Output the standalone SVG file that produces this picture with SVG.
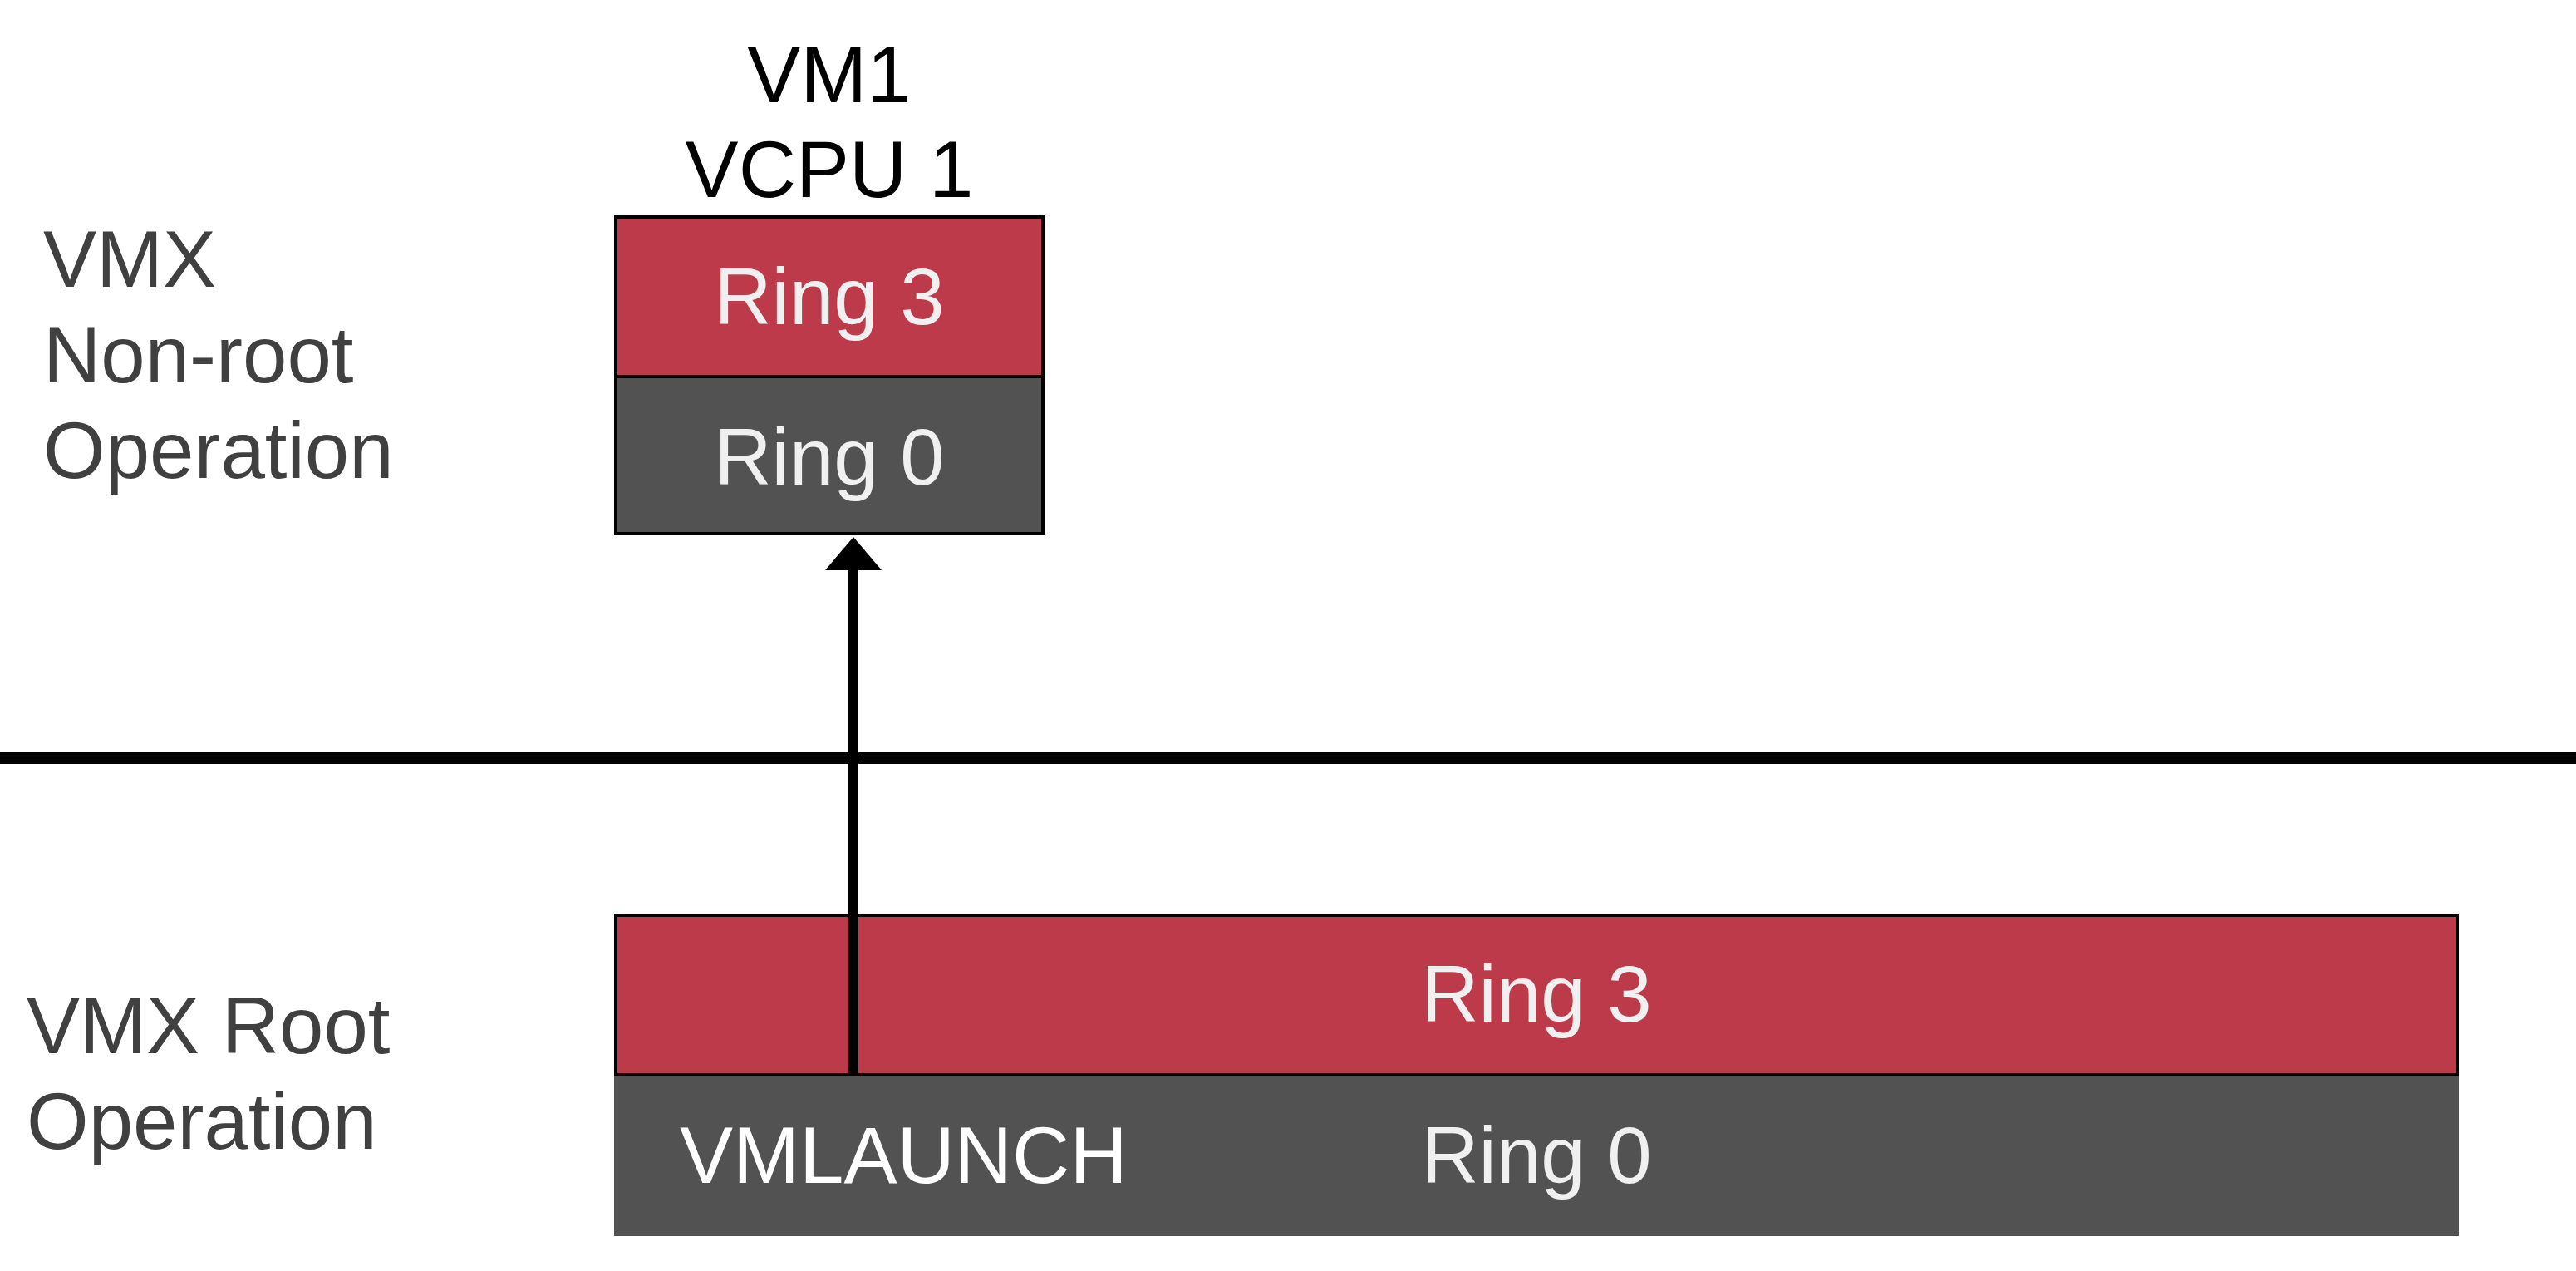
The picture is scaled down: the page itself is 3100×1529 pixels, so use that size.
<svg xmlns="http://www.w3.org/2000/svg" width="3100" height="1529" viewBox="0 0 3100 1529">
<style>
.t{font-family:"Liberation Sans",Arial,sans-serif;font-size:96px}
.lbl{fill:#404040}
.ring{fill:#f0f0f0;text-anchor:middle}
.red{fill:#bd3a4b;stroke:#000;stroke-width:4}
.gray{fill:#525252}
</style>
<defs>
<marker id="ah" markerUnits="userSpaceOnUse" markerWidth="40" markerHeight="68" viewBox="0 0 40 68" refX="0" refY="34" orient="auto">
<path d="M0,0 L40,34 L0,68 z" fill="#000"/>
</marker>
</defs>
<rect width="3100" height="1529" fill="#fff"/>
<g id="label-nonroot">
<text class="t lbl" x="52" y="345">VMX</text>
<text class="t lbl" x="52" y="460">Non-root</text>
<text class="t lbl" x="52" y="575">Operation</text>
</g>
<g id="label-root">
<text class="t lbl" x="32" y="1267">VMX Root</text>
<text class="t lbl" x="32" y="1382">Operation</text>
</g>
<g id="vm1">
<text class="t" x="998" y="123" text-anchor="middle" fill="#000">VM1</text>
<text class="t" x="998" y="237" text-anchor="middle" fill="#000">VCPU 1</text>
<rect x="741" y="261" width="514" height="192" class="gray" stroke="#000" stroke-width="4"/>
<rect x="741" y="261" width="514" height="192" class="red"/>
<rect x="741" y="453" width="514" height="189" class="gray" stroke="#000" stroke-width="4"/>
<text class="t ring" x="998" y="390">Ring 3</text>
<text class="t ring" x="998" y="583">Ring 0</text>
</g>
<g id="host">
<rect x="739" y="1293" width="2220" height="194" class="gray"/>
<rect x="741" y="1101" width="2216" height="192" class="red"/>
<text class="t ring" x="1849" y="1229">Ring 3</text>
<text class="t ring" x="1849" y="1423">Ring 0</text>
<text class="t" x="818" y="1423" fill="#fff">VMLAUNCH</text>
</g>
<g id="separator">
<line x1="0" y1="912" x2="3100" y2="912" stroke="#000" stroke-width="14"/>
</g>
<g id="connectors">
<line x1="1027" y1="1291" x2="1027" y2="686" stroke="#000" stroke-width="12" marker-end="url(#ah)"/>
</g>
</svg>
